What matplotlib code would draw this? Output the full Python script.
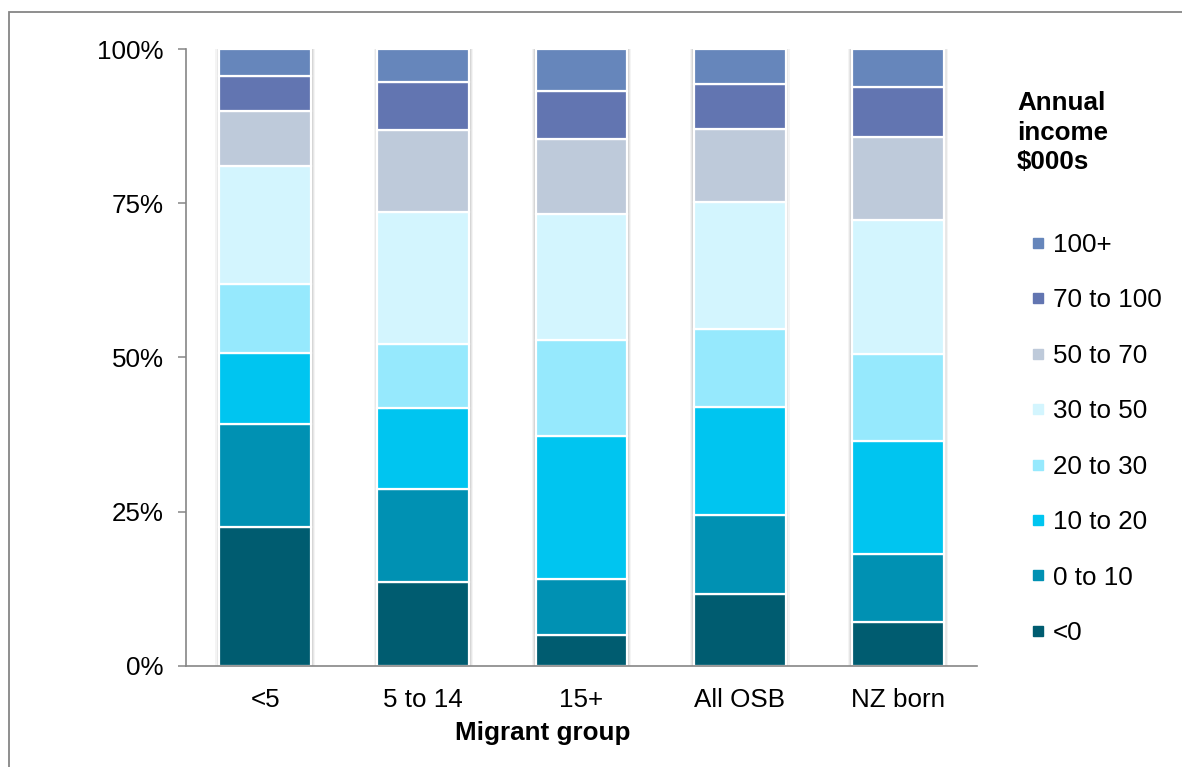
import matplotlib.pyplot as plt
from matplotlib.lines import Line2D
from matplotlib.patches import Rectangle
import numpy as np

plt.rcParams["font.family"] = ["Liberation Sans", "DejaVu Sans"]

groups = ["<5", "5 to 14", "15+", "All OSB", "NZ born"]
bands = ["<0", "0 to 10", "10 to 20", "20 to 30", "30 to 50", "50 to 70", "70 to 100", "100+"]
colors = ["#005C70", "#0091B3", "#00C5F0", "#96E9FD", "#D3F5FE", "#BECADA", "#6275B1", "#6686BB"]

# share of each income band (%), one list per band, in group order
neg = [22.5, 13.6, 5.1, 11.6, 7.1]
b0_10 = [16.7, 15.1, 9.0, 12.8, 11.1]
b10_20 = [11.6, 13.1, 23.2, 17.5, 18.3]
b20_30 = [11.1, 10.4, 15.5, 12.8, 14.0]
b30_50 = [19.2, 21.4, 20.4, 20.5, 21.8]
b50_70 = [8.9, 13.3, 12.2, 11.8, 13.5]
b70_100 = [5.7, 7.8, 7.8, 7.3, 8.0]
b100 = [4.3, 5.3, 6.8, 5.7, 6.2]
shares = [neg, b0_10, b10_20, b20_30, b30_50, b50_70, b70_100, b100]

fig = plt.figure(figsize=(11.82, 7.67), dpi=100)
ax = fig.add_axes([0.1574, 0.1317, 0.6692, 0.8044])

x = np.arange(len(groups))
width = 0.58

# soft shadow behind each column
totals = np.sum(shares, axis=0)
for extra, a in [(0.05, 0.10), (0.035, 0.15), (0.02, 0.25)]:
    ax.bar(x, totals, width + extra, color="#9a9a9a", alpha=a, linewidth=0, zorder=1)

bottom = np.zeros(len(groups))
for vals, col, lab in zip(shares, colors, bands):
    ax.bar(x, vals, width, bottom=bottom, color=col, edgecolor="white",
           linewidth=1.6, label=lab, zorder=2)
    bottom += np.array(vals)

ax.set_xlim(-0.5, len(groups) - 0.5)
ax.set_ylim(0, 100)
ax.set_yticks([0, 25, 50, 75, 100])
ax.set_yticklabels(["0%", "25%", "50%", "75%", "100%"])
ax.set_xticks(x)
ax.set_xticklabels(groups)
ax.tick_params(axis="y", length=6, width=1.1, color="#868686", pad=10, labelsize=18.7)
ax.tick_params(axis="x", length=0, pad=16, labelsize=18.7)

for side in ["top", "right"]:
    ax.spines[side].set_visible(False)
for side in ["left", "bottom"]:
    ax.spines[side].set_color("#868686")
    ax.spines[side].set_linewidth(1.2)

ax.text(0.451, -0.108, "Migrant group", transform=ax.transAxes, ha="center",
        va="center", fontsize=18.7, fontweight="bold")

# legend, highest band on top
handles = [Line2D([], [], marker="s", linestyle="none", markersize=7.5,
                  markerfacecolor=c, markeredgecolor=c) for c in colors][::-1]
fig.legend(handles, bands[::-1], loc="upper left", bbox_to_anchor=(0.862, 1 - 220 / 767),
           frameon=False, fontsize=18.7, labelspacing=1.21, handlelength=0.5,
           handletextpad=0.3, borderpad=0)

fig.text(1017 / 1182, 1 - 91 / 767, "Annual\nincome\n$000s", ha="left", va="top",
         fontsize=18.7, fontweight="bold", linespacing=1.3)

# outer frame
fig.patches.append(Rectangle((9 / 1182, -0.05), 1.1, 1 - 12 / 767 + 0.05,
                             transform=fig.transFigure, fill=False,
                             edgecolor="#868686", linewidth=1.3))

fig.savefig("out.png", dpi=100)
